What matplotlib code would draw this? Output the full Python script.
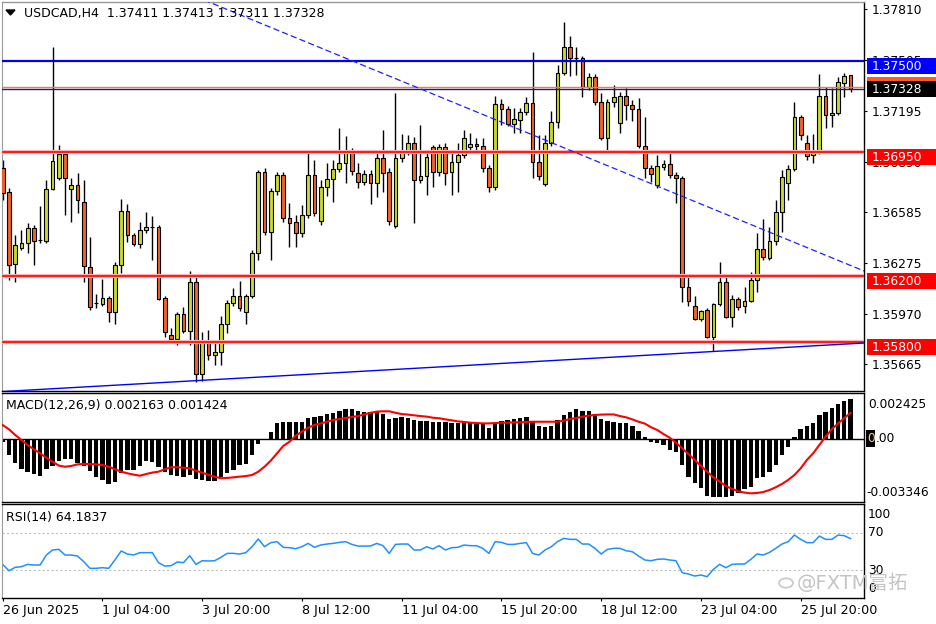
import numpy as np
import matplotlib
matplotlib.use("Agg")
import matplotlib.pyplot as plt
from matplotlib.patches import Rectangle, Polygon, Circle

# USDCAD H4 candles (bar 0 = 26 Jun 2025 12:00)
opens = np.array([
    1.36851, 1.36705, 1.36270, 1.36367, 1.36397, 1.36488, 1.36415, 1.36409, 1.36724, 1.36790,
    1.36935, 1.36724, 1.36748, 1.36645, 1.36252, 1.36034, 1.36028, 1.36064, 1.35979, 1.36264,
    1.36590, 1.36445, 1.36391, 1.36475, 1.36494, 1.36494, 1.36064, 1.35840, 1.35816, 1.35967,
    1.35864, 1.36161, 1.35604, 1.35804, 1.35719, 1.35737, 1.35907, 1.36034, 1.36076, 1.35979,
    1.36076, 1.36336, 1.36826, 1.36463, 1.36711, 1.36808, 1.36548, 1.36524, 1.36457, 1.36566,
    1.36808, 1.36530, 1.36736, 1.36784, 1.36845, 1.36881, 1.36947, 1.36820, 1.36766, 1.36814,
    1.36760, 1.36911, 1.36826, 1.36500, 1.36911, 1.36947, 1.37002, 1.36778, 1.36802, 1.36978,
    1.36826, 1.36978, 1.36826, 1.36887, 1.36929, 1.36978, 1.36996, 1.36984, 1.36851, 1.36736,
    1.37238, 1.37208, 1.37117, 1.37141, 1.37189, 1.37244, 1.36887, 1.36754, 1.37002, 1.37129,
    1.37425, 1.37583, 1.37516, 1.37516, 1.37341, 1.37401, 1.37250, 1.37032, 1.37250, 1.37123,
    1.37286, 1.37232, 1.37208, 1.36984, 1.36851, 1.36748, 1.36857, 1.36875, 1.36808, 1.36790,
    1.36131, 1.36016, 1.35937, 1.35991, 1.35828, 1.36028, 1.36161, 1.35949, 1.36058, 1.36016,
    1.36046, 1.36173, 1.36361, 1.36306, 1.36409, 1.36584, 1.36760, 1.36845, 1.37159, 1.37002,
    1.36929, 1.36947, 1.37286, 1.37171, 1.37183, 1.37365, 1.37411])
highs = np.array([
    1.36899, 1.36730, 1.36445, 1.36475, 1.36518, 1.36506, 1.36621, 1.36778, 1.37583, 1.36990,
    1.36947, 1.36790, 1.36820, 1.36778, 1.36433, 1.36088, 1.36179, 1.36076, 1.36282, 1.36663,
    1.36633, 1.36457, 1.36524, 1.36584, 1.36560, 1.36506, 1.36076, 1.35883, 1.35979, 1.36010,
    1.36227, 1.36191, 1.35858, 1.35870, 1.35810, 1.35955, 1.36052, 1.36125, 1.36167, 1.36088,
    1.36354, 1.36838, 1.36851, 1.36730, 1.36826, 1.36826, 1.36639, 1.36566, 1.36627, 1.36941,
    1.36899, 1.36778, 1.36881, 1.36899, 1.37093, 1.37044, 1.36972, 1.36881, 1.36838, 1.36838,
    1.36941, 1.37080, 1.36851, 1.37304, 1.37056, 1.37050, 1.37038, 1.37111, 1.36941, 1.36990,
    1.36996, 1.37002, 1.36941, 1.37002, 1.37080, 1.37062, 1.37032, 1.37032, 1.36869, 1.37286,
    1.37268, 1.37226, 1.37214, 1.37214, 1.37280, 1.37552, 1.37050, 1.37050, 1.37195, 1.37474,
    1.37734, 1.37649, 1.37583, 1.37528, 1.37425, 1.37419, 1.37304, 1.37268, 1.37353, 1.37310,
    1.37335, 1.37262, 1.37274, 1.37159, 1.36869, 1.36929, 1.36899, 1.36947, 1.36826, 1.36802,
    1.36191, 1.36076, 1.35991, 1.36004, 1.36034, 1.36282, 1.36197, 1.36082, 1.36070, 1.36131,
    1.36221, 1.36457, 1.36542, 1.36494, 1.36657, 1.36838, 1.36869, 1.37250, 1.37171, 1.37050,
    1.37056, 1.37419, 1.37341, 1.37335, 1.37401, 1.37425, 1.37413])
lows = np.array([
    1.36657, 1.36173, 1.36161, 1.36354, 1.36336, 1.36264, 1.36397, 1.36397, 1.36717, 1.36778,
    1.36566, 1.36524, 1.36578, 1.36161, 1.35991, 1.36004, 1.36016, 1.35919, 1.35907, 1.36215,
    1.36403, 1.36379, 1.36367, 1.36457, 1.36294, 1.36052, 1.35828, 1.35798, 1.35780, 1.35852,
    1.35780, 1.35556, 1.35562, 1.35689, 1.35659, 1.35659, 1.35852, 1.36016, 1.35985, 1.35907,
    1.36064, 1.36294, 1.36445, 1.36294, 1.36687, 1.36524, 1.36373, 1.36373, 1.36433, 1.36548,
    1.36560, 1.36506, 1.36681, 1.36645, 1.36826, 1.36760, 1.36808, 1.36730, 1.36748, 1.36633,
    1.36675, 1.36705, 1.36506, 1.36488, 1.36887, 1.36929, 1.36518, 1.36760, 1.36687, 1.36736,
    1.36802, 1.36748, 1.36687, 1.36705, 1.36911, 1.36959, 1.36959, 1.36826, 1.36705, 1.36717,
    1.37111, 1.37105, 1.37062, 1.37062, 1.37171, 1.36790, 1.36778, 1.36742, 1.36984, 1.37093,
    1.37413, 1.37407, 1.37413, 1.37280, 1.37322, 1.37232, 1.37020, 1.36947, 1.37220, 1.37062,
    1.37141, 1.37135, 1.36972, 1.36790, 1.36766, 1.36730, 1.36838, 1.36790, 1.36639, 1.36040,
    1.36016, 1.35931, 1.35925, 1.35822, 1.35743, 1.36016, 1.35943, 1.35889, 1.35991, 1.35973,
    1.36040, 1.36100, 1.36294, 1.36294, 1.36385, 1.36463, 1.36657, 1.36832, 1.37020, 1.36899,
    1.36881, 1.36935, 1.37093, 1.37099, 1.37171, 1.37280, 1.37311])
closes = np.array([
    1.36699, 1.36264, 1.36385, 1.36397, 1.36488, 1.36409, 1.36415, 1.36724, 1.36893, 1.36935,
    1.36790, 1.36748, 1.36657, 1.36258, 1.36010, 1.36034, 1.36064, 1.35979, 1.36264, 1.36590,
    1.36445, 1.36391, 1.36475, 1.36494, 1.36494, 1.36058, 1.35858, 1.35816, 1.35967, 1.35864,
    1.36161, 1.35604, 1.35804, 1.35719, 1.35737, 1.35907, 1.36034, 1.36076, 1.36004, 1.36076,
    1.36336, 1.36826, 1.36463, 1.36711, 1.36808, 1.36548, 1.36518, 1.36457, 1.36566, 1.36808,
    1.36578, 1.36736, 1.36784, 1.36845, 1.36881, 1.36947, 1.36832, 1.36766, 1.36814, 1.36760,
    1.36911, 1.36820, 1.36530, 1.36911, 1.36947, 1.37002, 1.36778, 1.36802, 1.36917, 1.36826,
    1.36978, 1.36820, 1.36887, 1.36929, 1.37032, 1.36996, 1.36984, 1.36851, 1.36736, 1.37238,
    1.37208, 1.37117, 1.37147, 1.37189, 1.37244, 1.36887, 1.36802, 1.37002, 1.37129, 1.37425,
    1.37583, 1.37516, 1.37516, 1.37341, 1.37401, 1.37250, 1.37032, 1.37250, 1.37280, 1.37286,
    1.37232, 1.37208, 1.36984, 1.36851, 1.36814, 1.36863, 1.36875, 1.36808, 1.36790, 1.36131,
    1.36046, 1.35937, 1.35985, 1.35828, 1.36028, 1.36161, 1.35949, 1.36058, 1.36010, 1.36046,
    1.36173, 1.36361, 1.36312, 1.36409, 1.36584, 1.36796, 1.36845, 1.37159, 1.37050, 1.36923,
    1.36947, 1.37286, 1.37171, 1.37183, 1.37371, 1.37407, 1.37328])

# MACD(12,26,9): main (histogram) and signal, in units of 1e-3
macd_main = np.array([
    -0.18, -0.87, -1.29, -1.63, -1.78, -1.93, -2.02, -1.63, -1.47, -1.20,
    -1.09, -1.09, -1.29, -1.47, -1.74, -2.05, -2.23, -2.45, -2.32, -1.87,
    -1.69, -1.69, -1.47, -1.20, -1.24, -1.54, -1.78, -1.96, -2.02, -2.09,
    -1.96, -2.18, -2.23, -2.27, -2.27, -2.05, -1.87, -1.69, -1.42, -1.36,
    -0.87, -0.27, -0.02, 0.40, 0.85, 0.91, 0.91, 0.91, 0.94, 1.13,
    1.22, 1.27, 1.36, 1.43, 1.54, 1.63, 1.63, 1.54, 1.49, 1.45,
    1.49, 1.36, 1.07, 1.13, 1.22, 1.13, 1.04, 1.00, 0.98, 0.94,
    0.94, 0.91, 0.85, 0.85, 0.91, 0.85, 0.85, 0.85, 0.62, 0.85,
    0.98, 1.04, 1.07, 1.13, 1.18, 0.91, 0.71, 0.67, 0.71, 1.04,
    1.31, 1.49, 1.62, 1.54, 1.54, 1.36, 1.07, 1.00, 0.94, 0.89,
    0.85, 0.71, 0.44, 0.13, -0.15, -0.20, -0.33, -0.60, -0.73, -1.42,
    -2.05, -2.38, -2.69, -3.11, -3.14, -3.18, -3.14, -3.11, -2.96, -2.74,
    -2.60, -2.14, -2.09, -1.78, -1.42, -0.87, -0.45, 0.13, 0.53, 0.71,
    0.89, 1.31, 1.49, 1.67, 1.91, 2.09, 2.163]) / 1000
macd_signal = np.array([
    0.76, 0.53, 0.22, -0.05, -0.33, -0.56, -0.78, -1.02, -1.24, -1.45,
    -1.51, -1.47, -1.38, -1.36, -1.36, -1.38, -1.42, -1.51, -1.65, -1.78,
    -1.87, -1.94, -2.00, -1.91, -1.83, -1.78, -1.65, -1.54, -1.54, -1.56,
    -1.60, -1.73, -1.83, -1.96, -2.05, -2.14, -2.12, -2.09, -2.05, -2.02,
    -1.96, -1.78, -1.51, -1.18, -0.78, -0.38, -0.15, 0.18, 0.40, 0.62,
    0.76, 0.85, 0.94, 1.04, 1.09, 1.14, 1.20, 1.25, 1.34, 1.43,
    1.49, 1.51, 1.51, 1.43, 1.36, 1.33, 1.29, 1.25, 1.22, 1.16,
    1.13, 1.07, 1.02, 0.96, 0.93, 0.89, 0.87, 0.85, 0.85, 0.87,
    0.89, 0.89, 0.91, 0.91, 0.93, 0.94, 0.94, 0.94, 0.94, 0.94,
    1.00, 1.09, 1.14, 1.22, 1.27, 1.31, 1.33, 1.34, 1.34, 1.25,
    1.18, 1.07, 0.94, 0.84, 0.64, 0.49, 0.27, 0.07, -0.20, -0.51,
    -0.82, -1.14, -1.47, -1.78, -2.09, -2.32, -2.56, -2.72, -2.85, -2.92,
    -2.96, -2.94, -2.89, -2.78, -2.63, -2.45, -2.23, -1.96, -1.60, -1.14,
    -0.78, -0.33, 0.13, 0.53, 0.85, 1.14, 1.424]) / 1000

# RSI(14)
rsi = np.array([
    36.1, 29.2, 32.9, 33.6, 36.1, 35.4, 35.4, 46.3, 51.8, 52.5,
    46.3, 46.3, 45.2, 39.1, 31.8, 31.8, 32.5, 31.8, 40.9, 50.7,
    47.4, 46.3, 48.9, 48.9, 48.9, 38.0, 34.3, 34.7, 38.7, 38.0,
    45.6, 36.1, 40.1, 39.8, 40.1, 43.8, 48.1, 48.1, 47.4, 48.9,
    55.4, 63.8, 55.4, 59.8, 60.9, 54.7, 54.3, 53.2, 55.4, 59.0,
    54.7, 57.2, 58.3, 59.0, 60.1, 60.9, 57.9, 56.1, 56.1, 56.1,
    59.0, 56.5, 48.1, 57.9, 58.3, 58.3, 51.8, 51.8, 55.4, 52.9,
    56.5, 51.8, 54.3, 54.7, 57.2, 56.5, 56.5, 53.6, 48.1, 60.9,
    60.1, 57.9, 57.9, 59.0, 59.8, 48.1, 46.3, 51.8, 55.4, 60.9,
    64.5, 63.4, 63.4, 58.3, 58.3, 53.6, 47.4, 52.5, 53.6, 53.6,
    51.0, 49.9, 45.2, 40.9, 40.1, 41.6, 42.0, 40.9, 40.1, 27.0,
    25.6, 23.4, 24.5, 22.7, 30.7, 36.1, 32.5, 36.1, 36.5, 36.5,
    41.6, 47.4, 46.3, 49.2, 53.6, 58.3, 60.9, 68.1, 63.4, 59.8,
    59.8, 67.0, 63.4, 63.4, 68.1, 67.4, 64.18])

bars = np.arange(len(opens))

date_ticks = [0, 16, 32, 48, 64, 80, 96, 112, 128]
date_labels = ['26 Jun 2025', '1 Jul 04:00', '3 Jul 20:00', '8 Jul 12:00', '11 Jul 04:00',
               '15 Jul 20:00', '18 Jul 12:00', '23 Jul 04:00', '25 Jul 20:00']
price_ticks = [1.37810, 1.37505, 1.37195, 1.36890, 1.36585, 1.36275, 1.35970, 1.35665]
price_labels = ['1.37810', '1.37505', '1.37195', '1.36890', '1.36585', '1.36275', '1.35970', '1.35665']

# support / resistance levels and trend lines
red_levels = [1.36950, 1.36200, 1.35800]
blue_level = 1.37500
ask_level = 1.37343
bid_level = 1.37328
up_line = ([-0.1, 138.2], [1.35498, 1.35792])
down_line = ([32.3, 138.2], [1.37867, 1.36227])

W, H = 936, 624
fig = plt.figure(figsize=(W / 100, H / 100), dpi=100)
fig.patch.set_facecolor('white')
plt.rcParams['font.family'] = ['DejaVu Sans', 'Noto Sans CJK SC']


def add_ax(y0, y1, x0=2, x1=864.5):
    return fig.add_axes([x0 / W, 1 - y1 / H, (x1 - x0) / W, (y1 - y0) / H])


def ptext(x, y, s, **kw):
    kw.setdefault('va', 'center')
    return fig.text(x / W, 1 - y / H, s, **kw)


def prect(x0, y0, x1, y1, color, z=2):
    fig.add_artist(Rectangle((x0 / W, 1 - y1 / H), (x1 - x0) / W, (y1 - y0) / H,
                             transform=fig.transFigure, facecolor=color,
                             edgecolor='none', zorder=z))


ax = add_ax(2, 391)
axm = add_ax(393.3, 501.7)
axr = add_ax(504, 598)

xmin, xmax = -0.112, 138.24
for a in (ax, axm, axr):
    a.set_xlim(xmin, xmax)
    for side in ('right', 'bottom', 'top'):
        a.spines[side].set_color('black')
        a.spines[side].set_linewidth(1)
    a.spines['left'].set_color('#9a9a9a')
ax.spines['top'].set_color('#9a9a9a')

# candles
ax.set_ylim(1.355015, 1.37855)
bull = closes >= opens
ax.vlines(bars, lows, highs, color='black', lw=1, zorder=2)
ax.bar(bars, closes - opens, bottom=opens, width=0.6,
       color=np.where(bull, '#c8d92b', '#f4622a'),
       edgecolor='black', linewidth=0.8, zorder=3)

for lv in red_levels:
    ax.axhline(lv, color='#ffb4b4', lw=3, zorder=4)
    ax.axhline(lv, color='#ff0000', lw=1.2, zorder=4)
ax.axhline(blue_level, color='#0000ff', lw=1.6, zorder=4)
ax.axhline(ask_level, color='#ff7a30', lw=1, zorder=4)
ax.axhline(bid_level, color='#1a1a80', lw=1, zorder=4)
ax.plot(*up_line, color='#0000ff', lw=1, zorder=4)
ax.plot(*down_line, color='#2020ff', lw=0.9, ls=(0, (5, 2.5)), zorder=4)

ax.yaxis.tick_right()
ax.set_yticks(price_ticks, price_labels)
ax.tick_params(axis='y', length=2.2, width=0.8, pad=3.3, labelsize=8.8)
ax.set_xticks([])

# MACD
axm.set_ylim(-0.003416, 0.00249)
axm.bar(bars, macd_main, width=0.7, color='black', zorder=2)
axm.axhline(0, color='black', lw=1, zorder=2)
axm.plot(bars, macd_signal, color='#ff0000', lw=1.5, zorder=3)
axm.set_xticks([])
axm.set_yticks([])

# RSI
axr.set_ylim(-0.55, 101.96)
for lv in (70, 30):
    axr.axhline(lv, color='#c0c0c0', lw=0.8, ls=(0, (2, 2)))
axr.plot(bars, rsi, color='#1e90ff', lw=1.1)
axr.set_yticks([])
axr.set_xticks(date_ticks, date_labels)
axr.tick_params(axis='x', length=2.5, width=0.8, pad=2, labelsize=9.2)
for lbl in axr.get_xticklabels():
    lbl.set_horizontalalignment('left')

# price label boxes on the right axis
def ypix(price):
    return H - ax.transData.transform((0, price))[1]

for lv in red_levels:
    y = ypix(lv)
    prect(866.5, y - 2.5, 936, y + 13, '#ff0000')
    ptext(872, y + 5.5, f'{lv:.5f}', color='white', fontsize=8.8, zorder=5)
y = ypix(blue_level)
prect(866.5, y - 2.5, 936, y + 13, '#0000ff')
ptext(872, y + 5.5, f'{blue_level:.5f}', color='white', fontsize=8.8, zorder=5)
y = ypix(bid_level)
prect(866.5, y - 12.5, 936, y + 3, '#ff5a1f')
prect(866.5, y - 8, 936, y + 7.5, 'black')
ptext(872, y, f'{bid_level:.5f}', color='white', fontsize=8.8, zorder=5)

# MACD and RSI scale labels
ptext(868, 404, '0.002425', fontsize=8.8)
prect(866, 430, 875, 447, 'black')
ptext(867.5, 439, '0', fontsize=8.8, color='#f0d0a0', zorder=4)
ptext(875.3, 439, '.00', fontsize=8.8, zorder=3)
ptext(866.5, 493, '-0.003346', fontsize=8.8)
for val, yy in (('100', 514), ('70', 533), ('30', 570), ('0', 588)):
    ptext(868, yy, val, fontsize=8.8)

# headers
fig.add_artist(Polygon([(6 / W, 1 - 10 / H), (15 / W, 1 - 10 / H), (10.5 / W, 1 - 15 / H)],
                       closed=True, transform=fig.transFigure, color='black'))
ptext(24, 13, 'USDCAD,H4  1.37411 1.37413 1.37311 1.37328', fontsize=9)
ptext(6, 406, 'MACD(12,26,9) 0.002163 0.001424', fontsize=9)
ptext(6, 517, 'RSI(14) 64.1837', fontsize=9)

# watermark
fig.add_artist(Circle((786 / W, 1 - 583 / H), 7 / W, transform=fig.transFigure,
                      facecolor='none', edgecolor='#c8c8c8', lw=1.2, zorder=6))
ptext(797, 583, '@FXTM富拓', fontsize=14, color='#c4c4c4', zorder=6,
      family=['DejaVu Sans', 'Noto Sans CJK SC'])

fig.savefig('out.png', dpi=100)
